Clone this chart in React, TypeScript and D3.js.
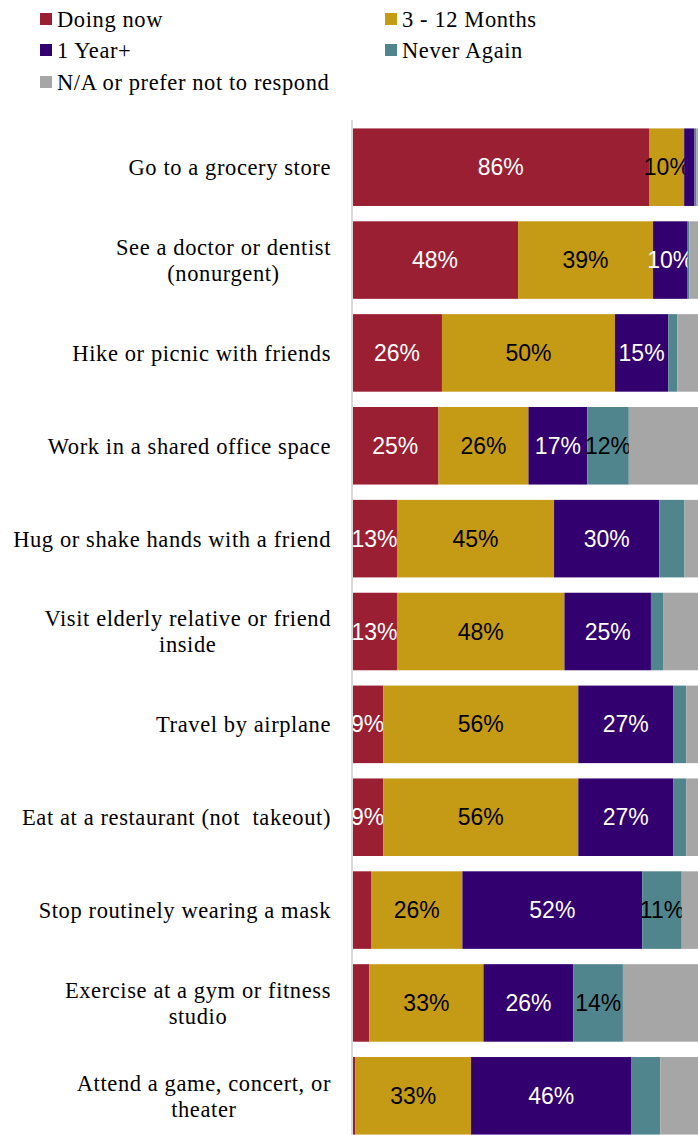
import React, { useEffect, useRef } from 'react';
import * as d3 from 'd3';

const categories = [
  'Go to a grocery store',
  'See a doctor or dentist\n(nonurgent)',
  'Hike or picnic with friends',
  'Work in a shared office space',
  'Hug or shake hands with a friend',
  'Visit elderly relative or friend\ninside',
  'Travel by airplane',
  'Eat at a restaurant (not  takeout)',
  'Stop routinely wearing a mask',
  'Exercise at a gym or fitness\nstudio',
  'Attend a game, concert, or\ntheater',
];

const doingNow = [86, 48, 26, 25, 13, 13, 9, 9, 5.5, 5, 1];
const months3to12 = [10, 39, 50, 26, 45.4, 48.4, 56.4, 56.4, 26.4, 33, 33.4];
const year1Plus = [3, 10, 15.4, 17, 30.4, 25, 27.4, 27.4, 52, 26, 46.4];
const neverAgain = [0.5, 0.5, 2.6, 12, 7.3, 3.5, 3.8, 3.8, 11.4, 14.3, 8.3];
const notRespond = [0.5, 2.5, 6, 20, 3.9, 10.1, 3.4, 3.4, 4.7, 21.7, 10.9];

const seriesNames = ['Doing now', '3 - 12 Months', '1 Year+', 'Never Again', 'N/A or prefer not to respond'];
const seriesColors = ['#9B1F32', '#C59A14', '#33006F', '#50858E', '#A6A6A6'];
const labelColors = ['#ffffff', '#000000', '#ffffff', '#000000', null];

const W = 698;
const H = 1135;

const App: React.FC = () => {
  const svgRef = useRef<SVGSVGElement>(null);

  useEffect(() => {
    document.body.style.margin = '0';
    if (!svgRef.current) return;
    const svg = d3.select(svgRef.current);
    svg.selectAll('*').remove();

    const serif = "'Liberation Serif', 'DejaVu Serif', serif";
    const sans = "'Liberation Sans', Arial, sans-serif";

    const rows = categories.map((c, i) => ({
      cat: c,
      vals: [doingNow[i], months3to12[i], year1Plus[i], neverAgain[i], notRespond[i]],
    }));

    const x = d3.scaleLinear().domain([0, 100]).range([352, 698]);
    const y = d3.scaleBand<number>()
      .domain(d3.range(categories.length))
      .range([121, 1142])
      .paddingInner(0.165)
      .paddingOuter(0.08);

    // legend
    const legendPos = [
      [40, 19], [385, 19], [40, 50], [385, 50], [40, 82],
    ];
    const legend = svg.append('g');
    seriesNames.forEach((name, i) => {
      const [lx, ly] = legendPos[i];
      legend.append('rect')
        .attr('x', lx).attr('y', ly - 6)
        .attr('width', 12).attr('height', 12)
        .attr('fill', seriesColors[i]);
      legend.append('text')
        .attr('x', lx + 17).attr('y', ly)
        .attr('dy', '0.35em')
        .style('font-family', serif)
        .style('font-size', '22.5px')
        .style('letter-spacing', '0.6px')
        .attr('fill', '#000')
        .text(name);
    });

    // bars
    rows.forEach((r, i) => {
      const g = svg.append('g');
      let acc = 0;
      r.vals.forEach((v, k) => {
        const x0 = x(acc);
        const x1 = x(acc + v);
        acc += v;
        g.append('rect')
          .attr('x', x0).attr('y', y(i)!)
          .attr('width', x1 - x0).attr('height', y.bandwidth())
          .attr('fill', seriesColors[k]);
        if (v >= 9 && labelColors[k]) {
          g.append('text')
            .attr('x', (x0 + x1) / 2)
            .attr('y', y(i)! + y.bandwidth() / 2)
            .attr('dy', '0.35em')
            .attr('text-anchor', 'middle')
            .style('font-family', sans)
            .style('font-size', '23px')
            .attr('fill', labelColors[k] as string)
            .text(`${Math.round(v)}%`);
        }
      });
    });

    // axis line
    svg.append('line')
      .attr('x1', 352).attr('x2', 352)
      .attr('y1', 120).attr('y2', H)
      .attr('stroke', '#d9d9d9')
      .attr('stroke-width', 2);

    // category labels
    rows.forEach((r, i) => {
      const lines = r.cat.split('\n');
      const cy = y(i)! + y.bandwidth() / 2;
      const lh = 26;
      const t = svg.append('text')
        .style('font-family', serif)
        .style('font-size', '22.5px')
        .style('letter-spacing', '0.6px')
        .style('white-space', 'pre')
        .attr('fill', '#000')
        .attr('text-anchor', 'middle');
      lines.forEach((ln, j) => {
        t.append('tspan')
          .attr('x', 0)
          .attr('y', cy + (j - (lines.length - 1) / 2) * lh)
          .attr('dy', '0.35em')
          .text(ln);
      });
      const tspans = t.selectAll<SVGTSpanElement, unknown>('tspan').nodes();
      const maxW = d3.max(tspans, n => n.getComputedTextLength()) || 0;
      const center = 331 - maxW / 2;
      t.selectAll('tspan').attr('x', center);
    });
  }, []);

  return <svg ref={svgRef} width={W} height={H} style={{ display: 'block' }} />;
};

export default App;
